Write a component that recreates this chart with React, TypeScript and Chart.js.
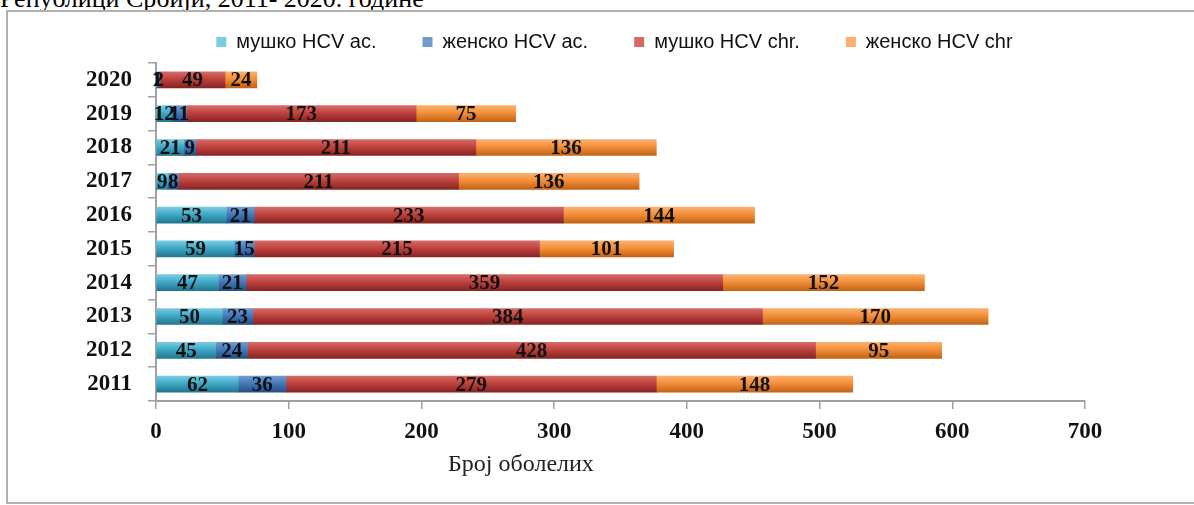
import React, { useEffect, useRef } from "react";
import { Chart, registerables } from "chart.js";

Chart.register(...registerables);

const heading = "Републици Србији, 2011- 2020. године";
const axisTitle = "Број оболелих";
const years = ["2011", "2012", "2013", "2014", "2015", "2016", "2017", "2018", "2019", "2020"];
const seriesNames = ["мушко HCV ac.", "женско HCV ac.", "мушко HCV chr.", "женско HCV chr"];
const maleAcute = [62, 45, 50, 47, 59, 53, 9, 21, 12, 1];
const femaleAcute = [36, 24, 23, 21, 15, 21, 8, 9, 11, 2];
const maleChronic = [279, 428, 384, 359, 215, 233, 211, 211, 173, 49];
const femaleChronic = [148, 95, 170, 152, 101, 144, 136, 136, 75, 24];
const xTicks = [0, 100, 200, 300, 400, 500, 600, 700];

const palette = [
  { light: "#79cbe2", base: "#3fa9c8", dark: "#23768f" },
  { light: "#6f9bd2", base: "#4479ba", dark: "#264f85" },
  { light: "#d66a66", base: "#be423e", dark: "#862422" },
  { light: "#fbb06e", base: "#f38f3a", dark: "#c26314" },
];

const BAR = 16;
const CANVAS_TOP = -14;
const CANVAS_H = 505 - CANVAS_TOP;

function gradientColor(idx: number) {
  const p = palette[idx];
  return (ctx: any) => {
    if (ctx.type !== "data") return p.base;
    const chart = ctx.chart;
    const y = chart.scales && chart.scales.y;
    if (!y || !chart.chartArea) return p.base;
    const cy = y.getPixelForValue(ctx.dataIndex);
    if (!isFinite(cy)) return p.base;
    const g = chart.ctx.createLinearGradient(0, cy - BAR / 2, 0, cy + BAR / 2);
    g.addColorStop(0, p.light);
    g.addColorStop(0.45, p.base);
    g.addColorStop(1, p.dark);
    return g;
  };
}

const barLabels = {
  id: "barLabels",
  afterDatasetsDraw(chart: any) {
    const ctx = chart.ctx;
    ctx.save();
    ctx.font = 'bold 21px "Liberation Serif"';
    ctx.fillStyle = "#111";
    ctx.textAlign = "center";
    ctx.textBaseline = "middle";
    chart.data.datasets.forEach((ds: any, di: number) => {
      const meta = chart.getDatasetMeta(di);
      meta.data.forEach((el: any, i: number) => {
        const { x, base, y } = el.getProps(["x", "base", "y"], true);
        ctx.fillText(String(ds.data[i]), (x + base) / 2, y + 1);
      });
    });
    ctx.restore();
  },
};

const axisTitlePlugin = {
  id: "axisTitle",
  afterDraw(chart: any, _args: any, opts: any) {
    const ctx = chart.ctx;
    const x = chart.scales.x.getPixelForValue(opts.at);
    const y = chart.chartArea.bottom + opts.offset;
    ctx.save();
    ctx.font = '24px "Liberation Serif"';
    ctx.fillStyle = "#222";
    ctx.textAlign = "center";
    ctx.textBaseline = "middle";
    ctx.fillText(opts.text, x, y);
    ctx.restore();
  },
};

const legendTweak = {
  id: "legendTweak",
  beforeInit(chart: any, _args: any, opts: any) {
    const lg = chart.legend;
    if (!lg) return;
    const origFit = lg.fit;
    lg.fit = function () {
      origFit.call(this);
      this.height = opts.height;
    };
    const origDraw = lg.draw;
    lg.draw = function () {
      const c = this.ctx;
      c.save();
      c.translate(opts.shift, 0);
      origDraw.call(this);
      c.restore();
    };
  },
};

export default function App() {
  const ref = useRef<HTMLCanvasElement>(null);

  useEffect(() => {
    if (!ref.current) return;
    const series = [maleAcute, femaleAcute, maleChronic, femaleChronic];
    const tickFont = { family: "Liberation Serif", size: 23, weight: "bold" as const };
    const chart = new Chart(ref.current, {
      type: "bar",
      data: {
        labels: years,
        datasets: series.map((d, i) => ({
          label: seriesNames[i],
          data: d,
          backgroundColor: gradientColor(i),
          borderWidth: 0,
          barThickness: BAR,
        })),
      },
      options: {
        indexAxis: "y",
        responsive: false,
        animation: false,
        layout: { padding: { left: 0, right: 109, top: 0, bottom: 0 } },
        scales: {
          x: {
            stacked: true,
            min: 0,
            max: 700,
            afterBuildTicks: (s: any) => {
              s.ticks = xTicks.map((v) => ({ value: v }));
            },
            afterFit: (s: any) => {
              s.height = 104;
            },
            ticks: { font: tickFont, color: "#111", padding: 9, maxRotation: 0, autoSkip: false },
            grid: { drawOnChartArea: false, drawTicks: true, tickLength: 8, color: "#a0a0a0", lineWidth: 1.5 },
            border: { display: true, color: "#a0a0a0", width: 2 },
          },
          y: {
            stacked: true,
            reverse: true,
            afterFit: (s: any) => {
              s.width = 156;
            },
            ticks: { font: tickFont, color: "#111", padding: 16 },
            grid: { drawOnChartArea: false, drawTicks: true, tickLength: 8, color: "#a0a0a0", lineWidth: 1.5, offset: true },
            border: { display: true, color: "#a0a0a0", width: 2 },
          },
        },
        plugins: {
          legend: {
            position: "top",
            fullSize: false,
            labels: {
              boxWidth: 10,
              boxHeight: 10,
              padding: 46,
              color: "#111",
              font: { family: "Liberation Sans", size: 20 },
            },
          },
          tooltip: { enabled: false },
          axisTitle: { text: axisTitle, at: 275, offset: 64 },
          legendTweak: { height: 63 - CANVAS_TOP, shift: -6 },
        } as any,
      },
      plugins: [barLabels, axisTitlePlugin, legendTweak],
    });
    return () => chart.destroy();
  }, []);

  return (
    <div style={{ position: "absolute", left: 0, top: 0, width: 1194, height: 505, overflow: "hidden", background: "#fff" }}>
      <div
        style={{
          position: "absolute",
          left: 0,
          top: -14,
          font: '26px "Liberation Serif"',
          lineHeight: "26px",
          whiteSpace: "nowrap",
          color: "#000",
        }}
      >
        {heading}
      </div>
      <div
        style={{
          position: "absolute",
          left: 6,
          top: 10,
          width: 1200,
          height: 494,
          border: "2px solid #b0b0b0",
          boxSizing: "border-box",
          background: "#fff",
        }}
      />
      <div style={{ position: "absolute", left: 0, top: CANVAS_TOP, width: 1194, height: CANVAS_H }}>
        <canvas ref={ref} width={1194} height={CANVAS_H} style={{ width: 1194, height: CANVAS_H, display: "block" }} />
      </div>
    </div>
  );
}
